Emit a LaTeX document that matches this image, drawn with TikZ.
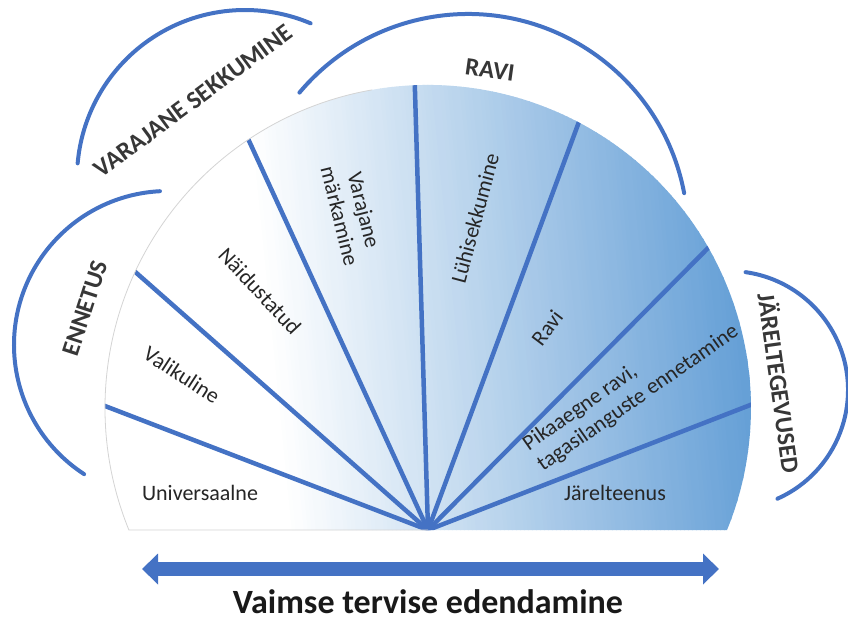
\documentclass[tikz,border=0pt]{standalone}
\usepackage{fontspec}
\setmainfont{Carlito}
\usetikzlibrary{arrows.meta}
\definecolor{lineblue}{RGB}{68,114,196}
\definecolor{fanblue}{RGB}{92,154,212}
\definecolor{txt}{RGB}{38,38,38}
\definecolor{outtxt}{RGB}{55,55,55}
\definecolor{outline}{RGB}{212,212,212}
\begin{document}
\begin{tikzpicture}[x=1pt,y=1pt,
  ray/.style={lineblue, line width=4.5pt},
  bracket/.style={lineblue, line width=4pt, line cap=round},
  inlabel/.style={font=\fontsize{22}{25}\selectfont, text=txt, inner sep=0pt},
  outlabel/.style={font=\fontsize{25}{30}\selectfont\bfseries, text=outtxt, inner sep=0pt}]
\useasboundingbox (0,0) rectangle (848,622);
\coordinate (O) at (428,92);
% fan with gradient strips
\begin{scope}
\clip (128.9,92) arc[start angle=202.19, end angle=-22.19, radius=323] -- cycle;
\foreach \i in {0,...,190} {
  \pgfmathsetmacro{\xx}{80+4*\i}
  \pgfmathtruncatemacro{\L}{max(0,min(100,(\xx-285)/500*100))}
  \fill[fanblue!\L!white] (\xx,92) -- ++(4.8,0) -- ++(-50,500) -- ++(-4.8,0) -- cycle;
}
\foreach \a in {159,138.6,114.7,91.7,69.7,45.2,21.2}
  \draw[ray] (O) -- ++(\a:600);
\end{scope}
\draw[outline, line width=0.8pt] (O) -- (128.9,92) arc[start angle=202.19, end angle=100, radius=323];
% brackets
\draw[bracket] ([shift={(93:154)}]168,277) arc[start angle=93, end angle=237, radius=154];
\draw[bracket] ([shift={(67:168)}]245,444) arc[start angle=67, end angle=175, radius=168];
\draw[bracket] ([shift={(10.7:220)}]468,388) arc[start angle=10.7, end angle=140, radius=220];
\draw[bracket] ([shift={(-66:119)}]729,232) arc[start angle=-66, end angle=82, radius=119];
% outer labels
\node[outlabel, rotate=72] (ennetus) at (85,314) {ENNETUS};
\node[outlabel, rotate=36.5] (varsek) at (193,521) {VARAJANE SEKKUMINE};
\node[outlabel, rotate=-8] (ravi) at (490,552) {RAVI};
\node[outlabel, rotate=-82] (jarel) at (780,239) {JÄRELTEGEVUSED};
% inner labels
\node[inlabel] (univ) at (200,129) {Universaalne};
\node[inlabel, rotate=-33] (valik) at (182,247) {Valikuline};
\node[inlabel, rotate=-47] (naid) at (260,331) {Näidustatud};
\node[inlabel, rotate=-76, align=center] (varm) at (352,409) {Varajane\\märkamine};
\node[inlabel, rotate=75] (luhi) at (475,404) {Lühisekkumine};
\node[inlabel, rotate=53] (ravi2) at (547,294) {Ravi};
\node[inlabel, rotate=35, align=left] (pika) at (631,234) {Pikaaegne ravi,\\tagasilanguste ennetamine};
\node[inlabel] (jarelt) at (615,129) {Järelteenus};
% arrow
\coordinate (aL) at (142,53);
\coordinate (aR) at (719,53);
\draw[lineblue, line width=14pt, {Triangle[width=30pt,length=16pt]}-{Triangle[width=30pt,length=16pt]}] (aL) -- (aR);
\node[font=\fontsize{34}{40}\selectfont\bfseries, text=black!90, anchor=base] (title) at (428,9) {Vaimse tervise edendamine};
\end{tikzpicture}
\end{document}
